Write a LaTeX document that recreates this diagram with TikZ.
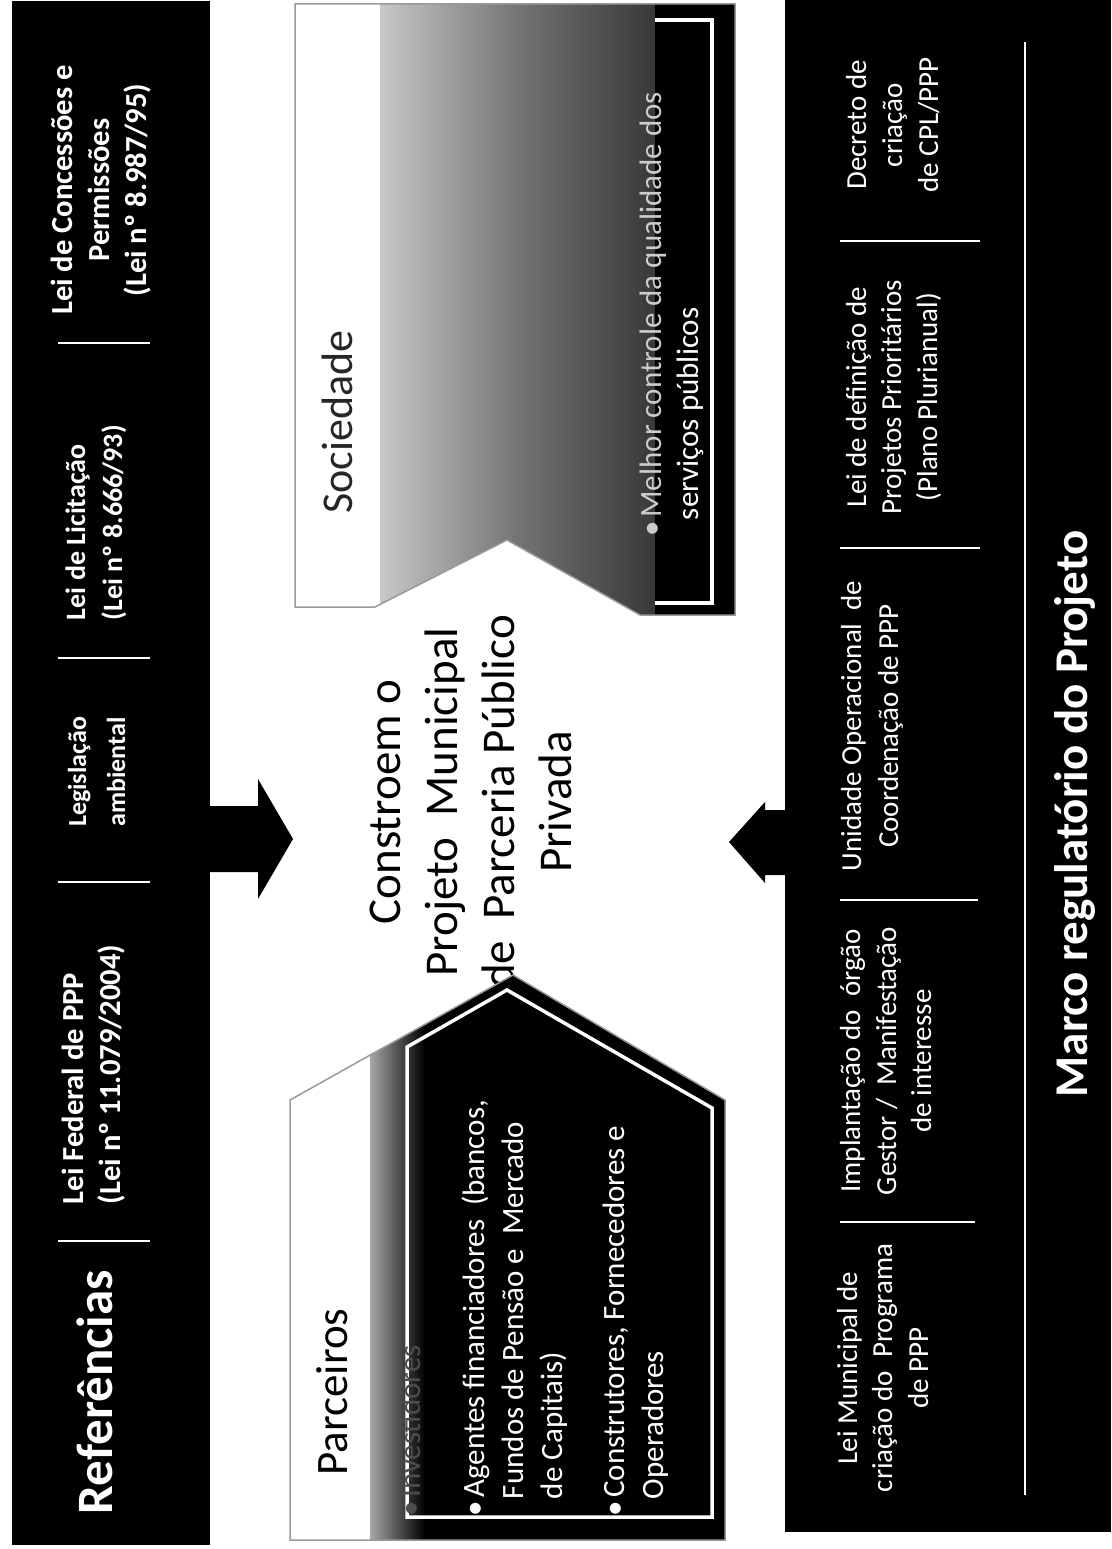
\documentclass[tikz,border=0pt]{standalone}
\usepackage{fontspec}
\setmainfont{Carlito}
\begin{document}
\begin{tikzpicture}[x=1pt,y=-1pt,
  vt/.style={rotate=90, inner sep=0pt, outer sep=0pt},
  hb/.style={vt, text=white, anchor=base, font=\fontsize{#1}{#1}\selectfont\bfseries},
  hbl/.style={vt, text=white, anchor=base west, font=\fontsize{#1}{#1}\selectfont\bfseries},
  hr/.style={vt, text=white, anchor=base, font=\fontsize{#1}{#1}\selectfont},
  hrl/.style={vt, text=white, anchor=base west, font=\fontsize{#1}{#1}\selectfont},
  ctext/.style={vt, text=black, anchor=base, font=\fontsize{47}{47}\selectfont},
  sep/.style={white, line width=2.5pt},
  barfill/.style={fill=black},
  blockarrow/.style={fill=black},
  innerline/.style={white, line width=3.5pt, line join=miter},
  outline/.style={black!40, line width=1.5pt},
]
\useasboundingbox (0,0) rectangle (1111,1549);
\fill[white] (0,0) rectangle (1111,1549);

% bars
\fill[barfill] (12,1) rectangle (210,1545);
\fill[barfill] (785,0) rectangle (1111,1532);

% block arrows
\fill[blockarrow] (205,806) -- (258,806) -- (258,779) -- (293,839) -- (258,899) -- (258,872) -- (205,872) -- cycle;
\fill[blockarrow] (790,810) -- (765,810) -- (765,802) -- (729,842) -- (765,883) -- (765,875) -- (790,875) -- cycle;

% separators
\draw[sep] (58,343) -- (150,343);
\draw[sep] (58,658) -- (150,658);
\draw[sep] (58,882) -- (150,882);
\draw[sep] (58,1241) -- (150,1241);
\draw[sep] (840,241) -- (980,241);
\draw[sep] (840,548) -- (980,548);
\draw[sep] (840,900) -- (978,900);
\draw[sep] (840,1222) -- (975,1222);
\draw[white, line width=2pt] (1025,42) -- (1025,1495);

% left bar texts
\node[hb=30.6] (c1) at (72,190) {Lei de Concessões e};
\node[hb=30.6] (c2) at (109,190) {Permissões};
\node[hb=30.6] (c3) at (146,190) {(Lei nº 8.987/95)};
\node[hbl=28] (li1) at (85,620) {Lei de Licitação};
\node[hbl=28] (li2) at (122,620) {(Lei nº 8.666/93)};
\node[hb=26] (lg1) at (86,772) {Legislação};
\node[hb=26] (lg2) at (125,772) {ambiental};
\node[hbl=30.6] (lf1) at (83,1204) {Lei Federal de PPP};
\node[hbl=30.6] (lf2) at (120,1204) {(Lei nº 11.079/2004)};
\node[hb=51] (ref) at (112,1392) {Referências};

% right block texts
\node[hr=29] (d1) at (866,125) {Decreto de};
\node[hr=29] (d2) at (902,125) {criação};
\node[hr=29] (d3) at (938,125) {de CPL/PPP};
\node[hr=29] (p1) at (866,397) {Lei de definição de};
\node[hr=29] (p2) at (901,397) {Projetos Prioritários};
\node[hr=29] (p3) at (937,397) {(Plano Plurianual)};
\node[hr=29] (u1) at (861,726) {Unidade Operacional\ \ de};
\node[hr=29] (u2) at (898,726) {Coordenação de PPP};
\node[hr=29] (i1) at (860,1061) {Implantação do\ \ órgão};
\node[hr=29] (i2) at (896,1061) {Gestor /\ \ Manifestação};
\node[hr=29] (i3) at (931,1061) {de interesse};
\node[hr=29] (m1) at (857,1368) {Lei Municipal de};
\node[hr=29] (m2) at (892,1368) {criação do\ \ Programa};
\node[hr=29] (m3) at (928,1368) {de PPP};
\node[hb=47] (marco) at (1087,814) {Marco regulatório do Projeto};

% central text
\node[ctext] (t1) at (400,802) {Constroem o};
\node[ctext] (t2) at (457,802) {Projeto\ \ Municipal};
\node[ctext] (t3) at (514,802) {de\ \ Parceria Público};
\node[ctext] (t4) at (571,802) {Privada};

% Sociedade shape
\begin{scope}
  \clip (295,4) -- (735,4) -- (735,615) -- (640,615) -- (507,540) -- (375,607) -- (295,607) -- cycle;
  \fill[white] (290,0) rectangle (380,620);
  \shade[left color=black!22, right color=black!55] (380,0) rectangle (520,620);
  \shade[left color=black!55, right color=black!78] (520,0) rectangle (655,620);
  \fill[black] (655,0) rectangle (740,620);
\end{scope}
\draw[outline] (295,4) -- (735,4) -- (735,615) -- (640,615) -- (507,540) -- (375,607) -- (295,607) -- cycle;
\draw[innerline] (655,20) -- (712,20) -- (712,603) -- (655,603);

% Parceiros shape
\begin{scope}
  \clip (290,1540) -- (290,1100) -- (513,975) -- (725,1100) -- (725,1540) -- cycle;
  \fill[white] (280,960) rectangle (370,1550);
  \shade[left color=black!35, right color=black] (370,960) rectangle (425,1550);
  \fill[black] (425,960) rectangle (740,1550);
\end{scope}
\draw[outline] (290,1540) -- (290,1100) -- (513,975) -- (725,1100) -- (725,1540) -- cycle;
\draw[innerline] (407,1517) -- (712,1517) -- (712,1108) -- (507,990) -- (407,1047) -- cycle;

% Sociedade texts
\node[vt, anchor=base, font=\fontsize{44}{44}\selectfont, text=black!85] (soc) at (352,422) {Sociedade};
\node[hrl=31, text=white!80!black] (s1) at (661,536) {\textbullet\hspace{3pt}Melhor controle da qualidade dos};
\node[hrl=31] (s2) at (698,520) {serviços públicos};

% Parceiros texts
\node[vt, anchor=base, font=\fontsize{45}{45}\selectfont, text=black] (par) at (347,1392) {Parceiros};
\node[hrl=31, text=black!70] (b1) at (420,1516) {\textbullet\hspace{3pt}Investidores};
\node[hrl=31] (b2) at (484,1516) {\textbullet\hspace{3pt}Agentes financiadores\ \ (bancos,};
\node[hrl=31] (b3) at (523,1499) {Fundos de Pensão e\ \ Mercado};
\node[hrl=31] (b4) at (562,1499) {de Capitais)};
\node[hrl=31] (b5) at (624,1516) {\textbullet\hspace{3pt}Construtores, Fornecedores e};
\node[hrl=31] (b6) at (663,1499) {Operadores};
\end{tikzpicture}
\end{document}
